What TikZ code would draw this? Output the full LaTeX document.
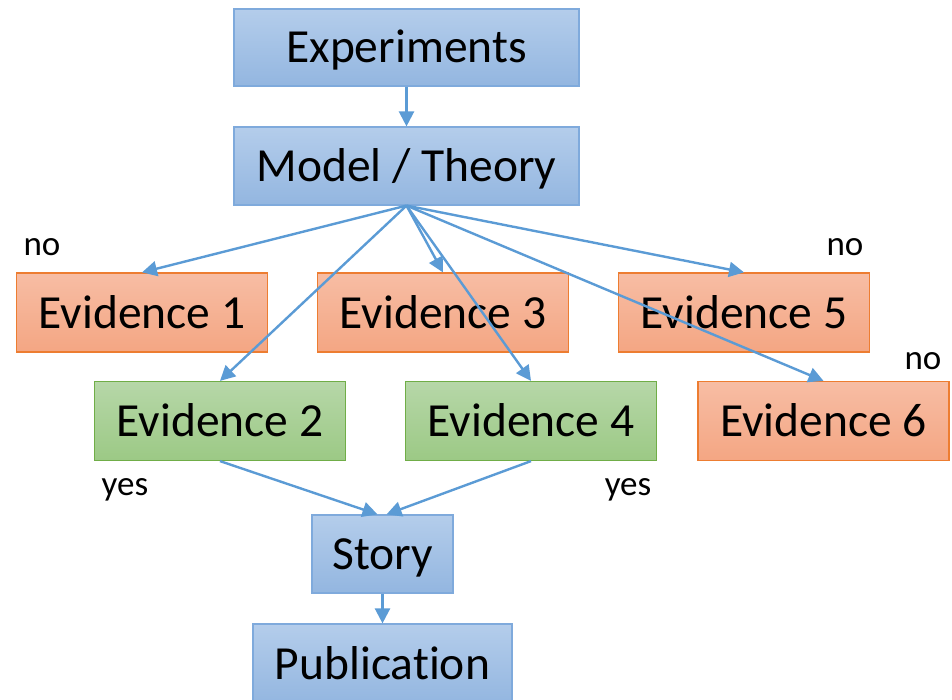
\documentclass[tikz,border=0pt]{standalone}
\usepackage{fontspec}
\setmainfont{Carlito}[RawFeature=-liga]
\usetikzlibrary{arrows.meta,calc}

\definecolor{linkblue}{HTML}{5B9BD5}
\definecolor{bluetop}{HTML}{B4CDEB}
\definecolor{bluebot}{HTML}{93B6E0}
\definecolor{blueedge}{HTML}{7FAADC}
\definecolor{orangetop}{HTML}{F7BDA4}
\definecolor{orangebot}{HTML}{F4A683}
\definecolor{orangeedge}{HTML}{ED7D31}
\definecolor{greentop}{HTML}{B6D7A8}
\definecolor{greenbot}{HTML}{9CC985}
\definecolor{greenedge}{HTML}{70AD47}

\tikzset{
  box/.style={rectangle, inner sep=0pt, line width=1.2pt,
    font=\fontsize{47.5}{56}\selectfont, text=black,
    text height=36pt, text depth=5pt},
  stagebox/.style={box, draw=blueedge, top color=bluetop, bottom color=bluebot},
  failbox/.style={box, draw=orangeedge, top color=orangetop, bottom color=orangebot,
    minimum width=251pt, minimum height=79pt},
  passbox/.style={box, draw=greenedge, top color=greentop, bottom color=greenbot,
    minimum width=251pt, minimum height=79pt},
  link/.style={draw=linkblue, line width=2.4pt,
    -{Triangle[length=15pt,width=15pt]}},
  verdict/.style={font=\fontsize{35}{42}\selectfont, text=black}
}

\begin{document}
\begin{tikzpicture}[x=1pt,y=-1pt]
  \useasboundingbox (0,0) rectangle (952,700);

  % main pipeline
  \node[stagebox, minimum width=345pt, minimum height=77pt] (exp) at (406.5,47.5) {Experiments};
  \node[stagebox, minimum width=345pt, minimum height=78pt] (model) at (406.5,166) {Model / Theory};

  % pieces of evidence
  \node[failbox] (e1) at (142,312.5) {Evidence 1};
  \node[failbox] (e3) at (443,312.5) {Evidence 3};
  \node[failbox] (e5) at (744,312.5) {Evidence 5};
  \node[passbox] (e2) at (220,421) {Evidence 2};
  \node[passbox] (e4) at (531,421) {Evidence 4};
  \node[failbox] (e6) at (823.5,421) {Evidence 6};

  \node[stagebox, minimum width=141pt, minimum height=78pt] (story) at (382.5,554) {Story};
  \node[stagebox, minimum width=259pt, minimum height=80pt] (pub) at (382.5,664) {Publication};

  % connectors
  \draw[link] (exp.south) -- (model.north);
  \foreach \target in {e1,e2,e3,e4,e5,e6}
    \draw[link] (model.south) -- (\target.north);
  \draw[link] (e2.south) -- ($(story.north)+(-5,0)$);
  \draw[link] (e4.south) -- ($(story.north)+(4,0)$);
  \draw[link] (story.south) -- (pub.north);

  % outcome labels
  \node[verdict] (no1) at (42,247) {no};
  \node[verdict] (no5) at (845,247) {no};
  \node[verdict] (no6) at (923,361) {no};
  \node[verdict] (yes2) at (125,490) {yes};
  \node[verdict] (yes4) at (628,490) {yes};
\end{tikzpicture}
\end{document}
